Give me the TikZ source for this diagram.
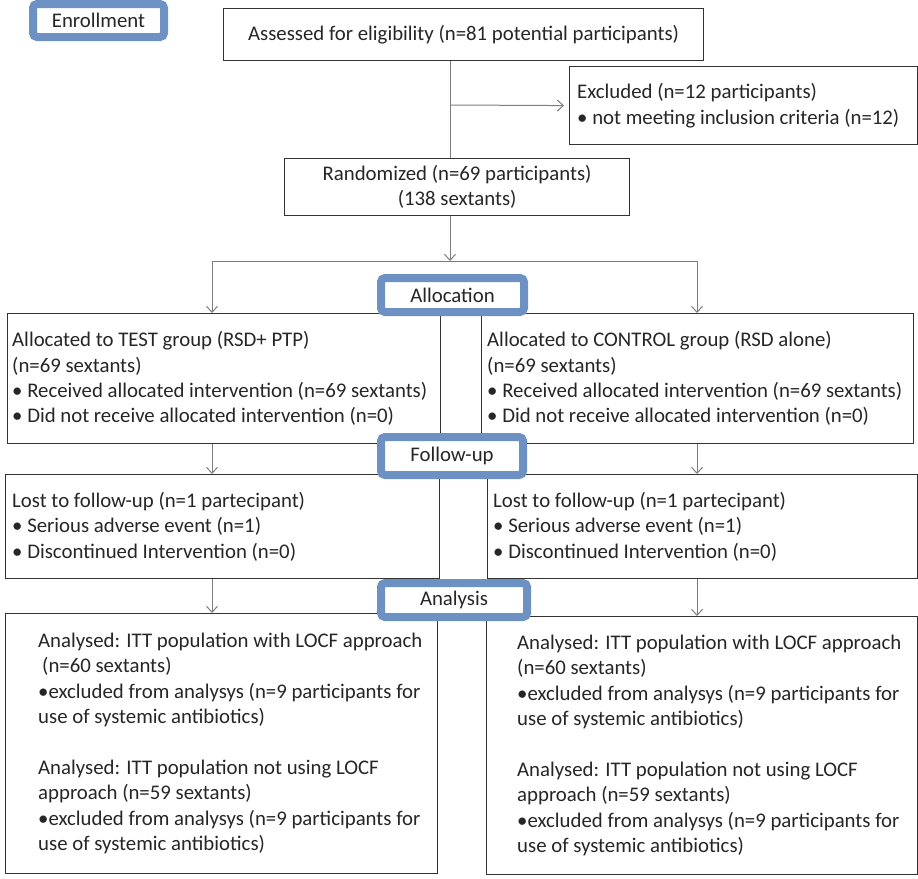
\documentclass[tikz,border=0pt]{standalone}
\usepackage{fontspec}
\setmainfont{Carlito}
\usetikzlibrary{arrows.meta, positioning}
\definecolor{flowblue}{RGB}{110,145,196}
\definecolor{linegray}{RGB}{125,125,125}

\begin{document}
\begin{tikzpicture}[
    x=1pt, y=-1pt,
    font=\fontsize{20.8}{25.4}\selectfont,
    box/.style={rectangle, draw=black!80, line width=1.2pt, fill=white, inner sep=0pt, anchor=north west, text=black!85},
    stagebox/.style={rectangle, draw=flowblue, line width=8pt, rounded corners=4pt, fill=white, inner sep=0pt, text=black!85},
    txt/.style={align=left, inner sep=0pt, text=black!85},
    arr/.style={-{Straight Barb[length=6pt, width=11pt]}, draw=linegray, line width=1pt},
    ln/.style={draw=linegray, line width=1pt}
]
\useasboundingbox (0,0) rectangle (918,878);

% Enrollment
\node[box, minimum width=480pt, minimum height=52pt] (assess) at (223,8) {Assessed for eligibility (n=81 potential participants)};
\node[box, minimum width=348pt, minimum height=78pt] (excl) at (569,66) {};
\node[txt, right=8pt of excl.west] (excltxt) {Excluded (n=12 participants)\\•\ not meeting inclusion criteria (n=12)};
\node[box, minimum width=345pt, minimum height=57pt, align=center] (rand) at (284,158) {Randomized (n=69 participants)\\(138 sextants)};

% Allocation
\node[box, minimum width=433pt, minimum height=130pt] (test) at (7,313) {};
\node[txt, right=5pt of test.west] (testtxt) {Allocated to TEST group (RSD+ PTP)\\(n=69 sextants)\\•\ Received allocated intervention (n=69 sextants)\\•\ Did not receive allocated intervention (n=0)};
\node[box, minimum width=432pt, minimum height=130pt] (ctrl) at (481,313) {};
\node[txt, right=6pt of ctrl.west] (ctrltxt) {Allocated to CONTROL group (RSD alone)\\(n=69 sextants)\\•\ Received allocated intervention (n=69 sextants)\\•\ Did not receive allocated intervention (n=0)};

% Follow-up
\node[box, minimum width=434pt, minimum height=104pt] (lostA) at (5,474) {};
\node[txt, right=7pt of lostA.west] (lostAtxt) {Lost to follow-up (n=1 partecipant)\\•\ Serious adverse event (n=1)\\•\ Discontinued Intervention (n=0)};
\node[box, minimum width=430pt, minimum height=104pt] (lostB) at (487,474) {};
\node[txt, right=6pt of lostB.west] (lostBtxt) {Lost to follow-up (n=1 partecipant)\\•\ Serious adverse event (n=1)\\•\ Discontinued Intervention (n=0)};

% Analysis
\node[box, minimum width=432pt, minimum height=260pt] (anaA) at (5,613) {};
\node[txt, right=33pt of anaA.west] (anaAtxt) {Analysed: ITT population with LOCF approach\\\hspace*{4pt}(n=60 sextants)\\•excluded from analysys (n=9 participants for\\use of systemic antibiotics)\\[25.4pt]Analysed: ITT population not using LOCF\\approach (n=59 sextants)\\•excluded from analysys (n=9 participants for\\use of systemic antibiotics)};
\node[box, minimum width=431pt, minimum height=258pt] (anaB) at (486,616) {};
\node[txt, right=31pt of anaB.west] (anaBtxt) {Analysed: ITT population with LOCF approach\\(n=60 sextants)\\•excluded from analysys (n=9 participants for\\use of systemic antibiotics)\\[25.4pt]Analysed: ITT population not using LOCF\\approach (n=59 sextants)\\•excluded from analysys (n=9 participants for\\use of systemic antibiotics)};

% Connectors
\coordinate (spine) at (450,105);
\coordinate (split) at (450,261);
\coordinate (lcol) at (212,261);
\coordinate (rcol) at (697,261);
\draw[ln] (spine |- assess.south) -- (spine |- rand.north);
\draw[arr, shorten >=5pt] (spine) -- (excl.west);
\draw[arr] (split |- rand.south) -- (split);
\draw[ln] (lcol) -- (rcol);
\draw[arr] (lcol) -- (lcol |- test.north);
\draw[arr] (rcol) -- (rcol |- ctrl.north);
\draw[arr] (lcol |- test.south) -- (lcol |- lostA.north);
\draw[arr] (rcol |- ctrl.south) -- (rcol |- lostB.north);
\draw[arr] (lcol |- lostA.south) -- (lcol |- anaA.north);
\draw[arr] (rcol |- lostB.south) -- (rcol |- anaB.north);

% Stage labels
\node[stagebox, minimum width=131pt, minimum height=33pt] (enrol) at (98.5,20.5) {Enrollment};
\node[stagebox, minimum width=143pt, minimum height=34pt] (alloc) at (452.5,295) {Allocation};
\node[stagebox, minimum width=142pt, minimum height=38pt] (follow) at (452,456) {Follow-up};
\node[stagebox, minimum width=146pt, minimum height=34pt] (analysis) at (454,600) {Analysis};
\end{tikzpicture}
\end{document}
